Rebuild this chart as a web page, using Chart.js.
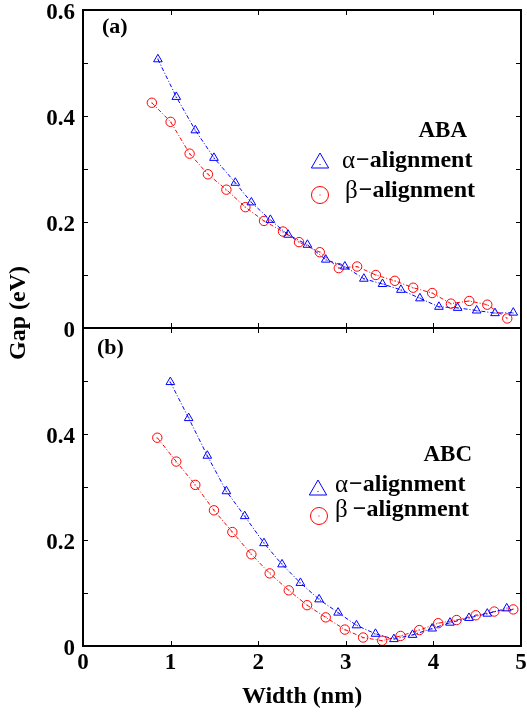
<!DOCTYPE html>
<html>
<head>
<meta charset="utf-8">
<script src="https://cdn.jsdelivr.net/npm/chart.js@4.4.1/dist/chart.umd.min.js"></script>
<style>
  html, body { margin: 0; padding: 0; background: #fff; }
  #wrap { position: relative; width: 527px; height: 721px; }
</style>
</head>
<body>
<div id="wrap"><canvas id="gapChart" width="527" height="721"></canvas></div>
<script>
// ---- panel (a): ABA ----
const abaAlphaWidth = [0.855, 1.065, 1.282, 1.495, 1.739, 1.922, 2.139, 2.341, 2.562, 2.771, 2.989, 3.206, 3.419, 3.629, 3.846, 4.063, 4.277, 4.494, 4.703, 4.912];
const abaAlphaGap   = [0.507, 0.436, 0.373, 0.321, 0.274, 0.237, 0.204, 0.176, 0.157, 0.129, 0.116, 0.093, 0.083, 0.072, 0.056, 0.040, 0.038, 0.033, 0.028, 0.029];
const abaBetaWidth  = [0.786, 1.000, 1.217, 1.426, 1.637, 1.854, 2.066, 2.283, 2.466, 2.703, 2.920, 3.129, 3.343, 3.560, 3.769, 3.986, 4.200, 4.409, 4.615, 4.843];
const abaBetaGap    = [0.425, 0.389, 0.329, 0.290, 0.261, 0.228, 0.202, 0.182, 0.162, 0.143, 0.113, 0.116, 0.100, 0.089, 0.076, 0.066, 0.046, 0.051, 0.044, 0.018];

// ---- panel (b): ABC ----
const abcAlphaWidth = [0.997, 1.206, 1.419, 1.637, 1.846, 2.066, 2.272, 2.482, 2.695, 2.912, 3.122, 3.339, 3.549, 3.762, 3.986, 4.189, 4.406, 4.615, 4.837];
const abcAlphaGap   = [0.498, 0.430, 0.359, 0.292, 0.245, 0.194, 0.154, 0.119, 0.088, 0.063, 0.039, 0.023, 0.013, 0.021, 0.033, 0.044, 0.053, 0.061, 0.071];
const abcBetaWidth  = [0.848, 1.065, 1.282, 1.495, 1.705, 1.922, 2.131, 2.349, 2.558, 2.771, 2.989, 3.198, 3.415, 3.625, 3.838, 4.055, 4.265, 4.483, 4.695, 4.912];
const abcBetaGap    = [0.393, 0.348, 0.304, 0.256, 0.215, 0.173, 0.137, 0.105, 0.077, 0.054, 0.031, 0.016, 0.010, 0.019, 0.030, 0.043, 0.049, 0.058, 0.065, 0.069];

// ticks
const xTicks = [0, 1, 2, 3, 4, 5];
const yTicks = [0, 0.1, 0.2, 0.3, 0.4, 0.5, 0.6];
const yLabelsA = ['0', '0.2', '0.4', '0.6'];
const yLabelsB = ['0', '0.2', '0.4'];

const BLUE = '#0000ff';
const RED = '#ff0000';
const SERIF = "'Liberation Serif', 'Times New Roman', serif";

function pts(xs, ys) {
  return xs.map((x, i) => ({ x: x, y: ys[i] }));
}

function series(label, xs, ys, axis, color, style) {
  return {
    label: label,
    data: pts(xs, ys),
    yAxisID: axis,
    showLine: true,
    borderColor: color,
    borderWidth: 1,
    borderDash: [4, 2, 1, 2],
    pointStyle: style,
    pointRadius: style === 'triangle' ? 5 : 4.7,
    pointBorderWidth: 1,
    pointBorderColor: color,
    pointBackgroundColor: 'rgba(0,0,0,0)',
    tension: 0
  };
}

function labelFmt(list) {
  return function(v) {
    const s = Math.round(v * 10) === 0 ? '0' : v.toFixed(1);
    return list.includes(s) ? s : '';
  };
}

function yScale(list) {
  return {
    type: 'linear',
    position: 'left',
    stack: 'gap',
    stackWeight: 1,
    min: 0,
    max: 0.6,
    ticks: {
      stepSize: 0.1,
      autoSkip: false,
      callback: labelFmt(list),
      labelOffset: 3,
      padding: 8,
      color: '#000',
      font: { family: SERIF, size: 23, weight: 'bold', lineHeight: 0.8 }
    },
    grid: { display: false, drawTicks: false },
    border: { display: false },
    afterFit: s => { s.width = 83; s.paddingTop = 0; s.paddingBottom = 0; }
  };
}

// frames, inward tick marks, marker centre dots
const framePlugin = {
  id: 'frames',
  afterDatasetsDraw(chart) {
    const ctx = chart.ctx;
    ctx.save();
    chart.data.datasets.forEach((ds, i) => {
      chart.getDatasetMeta(i).data.forEach(p => {
        ctx.fillStyle = ds.borderColor;
        ctx.fillRect(Math.round(p.x) - 0.5, Math.round(p.y) - 0.5, 1, 1);
      });
    });
    ctx.restore();
  },
  afterDraw(chart) {
    const ctx = chart.ctx;
    const x = chart.scales.x;
    const L = chart.chartArea.left, R = chart.chartArea.right;
    ctx.save();
    ctx.strokeStyle = '#000';
    ['ya', 'yb'].forEach(id => {
      const y = chart.scales[id];
      const T = y.top, B = y.bottom;
      ctx.lineWidth = 1;
      ctx.beginPath();
      yTicks.forEach(v => {
        const py = Math.round(y.getPixelForValue(v)) + 0.5;
        ctx.moveTo(L, py); ctx.lineTo(L + 5, py);
        ctx.moveTo(R, py); ctx.lineTo(R - 5, py);
      });
      xTicks.forEach(v => {
        const px = Math.round(x.getPixelForValue(v)) + 0.5;
        ctx.moveTo(px, T); ctx.lineTo(px, T + 5);
        ctx.moveTo(px, B); ctx.lineTo(px, B - 5);
      });
      ctx.stroke();
      ctx.lineWidth = 2;
      ctx.strokeRect(L, T, R - L, B - T);
    });

    // y axis title, shared by both panels
    ctx.fillStyle = '#000';
    ctx.font = 'bold 24px ' + SERIF;
    ctx.textAlign = 'center';
    ctx.textBaseline = 'middle';
    ctx.translate(19, 313);
    ctx.rotate(-Math.PI / 2);
    ctx.fillText('Gap (eV)', 0, 0);
    ctx.restore();

    drawPanelText(ctx, chart.scales.ya, '(a)', 'ABA');
    drawPanelText(ctx, chart.scales.yb, '(b)', 'ABC');
  }
};

function drawTri(ctx, cx, cy, r, color) {
  ctx.strokeStyle = color;
  ctx.lineWidth = 1;
  ctx.beginPath();
  ctx.moveTo(cx, cy - r);
  ctx.lineTo(cx + r * 0.866, cy + r * 0.5);
  ctx.lineTo(cx - r * 0.866, cy + r * 0.5);
  ctx.closePath();
  ctx.stroke();
  ctx.fillStyle = color;
  ctx.fillRect(cx - 0.5, cy + 1, 1, 1);
}

function drawCirc(ctx, cx, cy, r, color) {
  ctx.strokeStyle = color;
  ctx.lineWidth = 1;
  ctx.beginPath();
  ctx.arc(cx, cy, r, 0, Math.PI * 2);
  ctx.stroke();
  ctx.fillStyle = color;
  ctx.fillRect(cx - 0.5, cy - 0.5, 1, 1);
}

function drawEntry(ctx, greek, x, y, gap) {
  ctx.fillStyle = '#000';
  ctx.textAlign = 'left';
  ctx.textBaseline = 'middle';
  ctx.font = '25px ' + SERIF;
  ctx.fillText(greek, x, y);
  const w = ctx.measureText(greek).width;
  ctx.font = 'bold 24px ' + SERIF;
  ctx.fillText('\u2212alignment', x + w + gap, y);
}

function drawPanelText(ctx, y, tag, name) {
  const top = y.top;
  const isA = name === 'ABA';
  ctx.save();
  ctx.fillStyle = '#000';
  ctx.textBaseline = 'middle';
  ctx.font = 'bold 22px ' + SERIF;
  ctx.textAlign = 'left';
  ctx.fillText(tag, isA ? 102 : 97, top + (isA ? 17 : 20));
  ctx.textAlign = 'right';
  ctx.font = 'bold 23px ' + SERIF;
  ctx.fillText(name, isA ? 467 : 472, top + (isA ? 121 : 127));
  if (isA) {
    drawTri(ctx, 320, top + 153, 10, BLUE);
    drawEntry(ctx, '\u03b1', 342, top + 151, 1);
    drawCirc(ctx, 320, top + 185, 8.5, RED);
    drawEntry(ctx, '\u03b2', 345, top + 181, 1);
  } else {
    drawTri(ctx, 318, top + 162, 10, BLUE);
    drawEntry(ctx, '\u03b1', 335, top + 157, 1);
    drawCirc(ctx, 319, top + 188, 8.5, RED);
    drawEntry(ctx, '\u03b2', 335, top + 182, 5);
  }
  ctx.restore();
}

new Chart(document.getElementById('gapChart'), {
  type: 'scatter',
  data: {
    datasets: [
      series('ABA \u03b1-alignment', abaAlphaWidth, abaAlphaGap, 'ya', BLUE, 'triangle'),
      series('ABA \u03b2-alignment', abaBetaWidth, abaBetaGap, 'ya', RED, 'circle'),
      series('ABC \u03b1-alignment', abcAlphaWidth, abcAlphaGap, 'yb', BLUE, 'triangle'),
      series('ABC \u03b2-alignment', abcBetaWidth, abcBetaGap, 'yb', RED, 'circle')
    ]
  },
  options: {
    responsive: false,
    animation: false,
    layout: { padding: { top: 10, right: 6, left: 0, bottom: 0 } },
    plugins: {
      legend: { display: false },
      tooltip: { enabled: false }
    },
    scales: {
      x: {
        type: 'linear',
        position: 'bottom',
        min: 0,
        max: 5,
        ticks: {
          stepSize: 1,
          padding: 3,
          color: '#000',
          font: { family: SERIF, size: 23, weight: 'bold' }
        },
        grid: { display: false, drawTicks: false },
        border: { display: false },
        title: {
          display: true,
          text: 'Width (nm)',
          color: '#000',
          font: { family: SERIF, size: 24, weight: 'bold' },
          padding: { top: 0, bottom: 10 }
        },
        afterFit: s => { s.height = 75; s.paddingLeft = 0; s.paddingRight = 0; }
      },
      yb: yScale(yLabelsB),
      ya: yScale(yLabelsA)
    }
  },
  plugins: [framePlugin]
});
</script>
</body>
</html>
